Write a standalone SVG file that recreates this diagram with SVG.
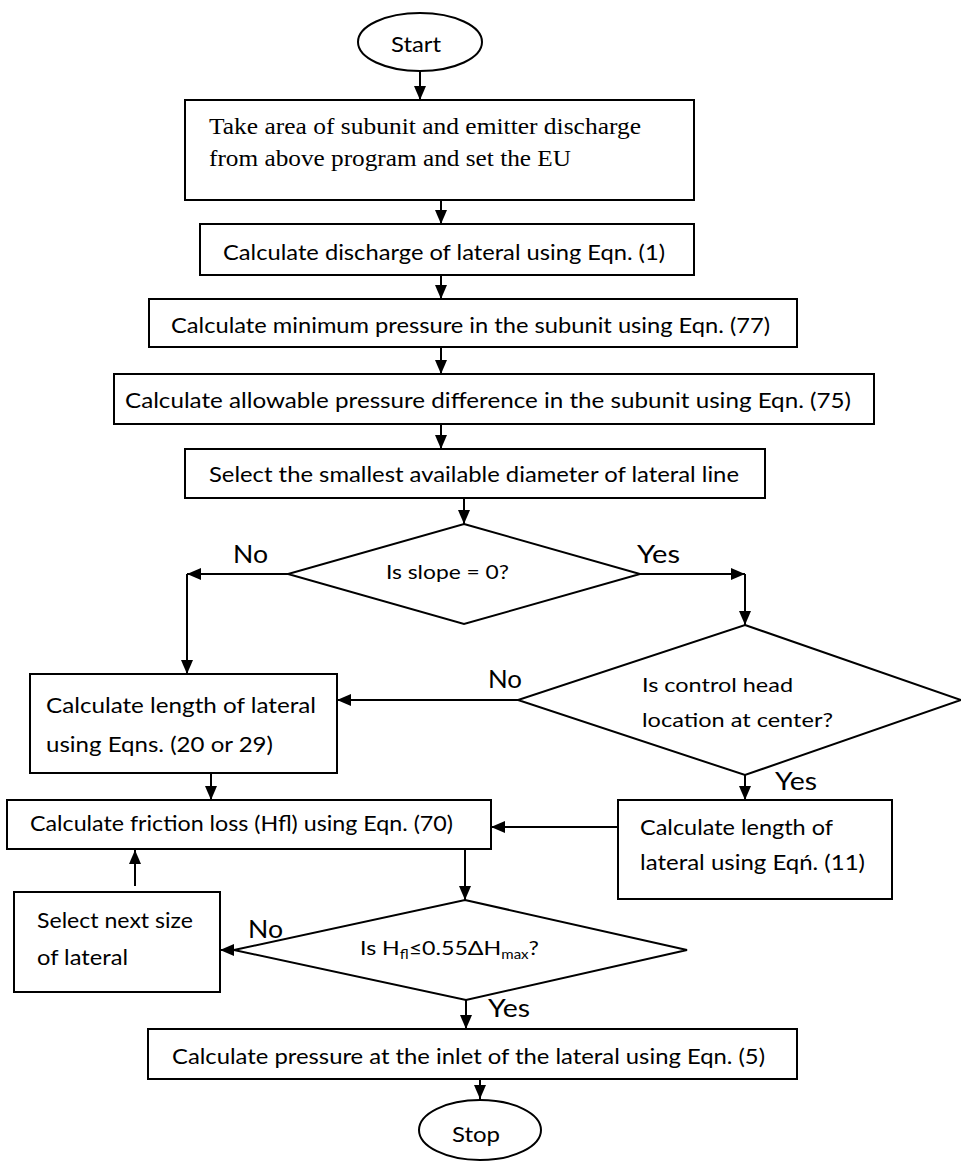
<svg xmlns="http://www.w3.org/2000/svg" width="961" height="1161" viewBox="0 0 961 1161">
<defs>
<marker id="ah" markerUnits="userSpaceOnUse" markerWidth="14" markerHeight="12" refX="14" refY="6" orient="auto">
<path d="M0,0 L14,6 L0,12 z" fill="#000"/>
</marker>
<style>
.s{fill:#fff;stroke:#000;stroke-width:2}
.t{font-family:Lato,"Liberation Sans",sans-serif;font-size:21px;fill:#000}
.d{font-family:Lato,"Liberation Sans",sans-serif;font-size:20px;fill:#000}
.l{font-family:Lato,"Liberation Sans",sans-serif;font-size:25px;fill:#000}
.r{font-family:"Liberation Serif","Times New Roman",serif;font-size:23px;fill:#000}
.c{fill:none;stroke:#000;stroke-width:2;marker-end:url(#ah)}
</style>
</defs>
<rect width="961" height="1161" fill="#fff"/>
<g id="connectors">
<path class="c" d="M420,71 V100"/>
<path class="c" d="M441,200 V224"/>
<path class="c" d="M441,275 V299"/>
<path class="c" d="M441,347 V374"/>
<path class="c" d="M441,424 V449"/>
<path class="c" d="M464,498 V524"/>
<path class="c" d="M288,574 H187"/>
<path class="c" d="M187,574 V674"/>
<path class="c" d="M640,574 H745"/>
<path class="c" d="M745,574 V625"/>
<path class="c" d="M518,700 H337"/>
<path class="c" d="M745,775 V800"/>
<path class="c" d="M211,773 V800"/>
<path class="c" d="M618,827 H491"/>
<path class="c" d="M465,849 V900"/>
<path class="c" d="M234,950 H220"/>
<path class="c" d="M135,886 V850"/>
<path class="c" d="M466,1000 V1029"/>
<path class="c" d="M480,1079 V1099"/>
</g>
<g id="start">
<ellipse class="s" cx="420" cy="42" rx="62" ry="29"/>
<text class="t" x="416" y="52" text-anchor="middle" textLength="50" lengthAdjust="spacingAndGlyphs">Start</text>
</g>
<g id="take-area">
<rect class="s" x="185" y="100" width="509" height="100"/>
<text class="r" x="209" y="134" textLength="432" lengthAdjust="spacingAndGlyphs">Take area of subunit and emitter discharge</text>
<text class="r" x="209" y="166" textLength="362" lengthAdjust="spacingAndGlyphs">from above program and set the EU</text>
</g>
<g id="discharge">
<rect class="s" x="200" y="224" width="494" height="51"/>
<text class="t" x="223" y="260" textLength="442" lengthAdjust="spacingAndGlyphs">Calculate discharge of lateral using Eqn. (1)</text>
</g>
<g id="min-pressure">
<rect class="s" x="149" y="299" width="648" height="48"/>
<text class="t" x="171" y="333" textLength="599" lengthAdjust="spacingAndGlyphs">Calculate minimum pressure in the subunit using Eqn. (77)</text>
</g>
<g id="allowable">
<rect class="s" x="114" y="374" width="760" height="50"/>
<text class="t" x="125" y="408" textLength="726" lengthAdjust="spacingAndGlyphs">Calculate allowable pressure difference in the subunit using Eqn. (75)</text>
</g>
<g id="select-smallest">
<rect class="s" x="185" y="449" width="580" height="49"/>
<text class="t" x="209" y="482" textLength="530" lengthAdjust="spacingAndGlyphs">Select the smallest available diameter of lateral line</text>
</g>
<g id="slope">
<polygon class="s" points="464,524 640,574 464,624 288,574"/>
<text class="d" x="386" y="579" textLength="123" lengthAdjust="spacingAndGlyphs">Is slope = 0?</text>
<text class="l" x="233" y="563" textLength="35" lengthAdjust="spacingAndGlyphs">No</text>
<text class="l" x="637" y="563" textLength="43" lengthAdjust="spacingAndGlyphs">Yes</text>
</g>
<g id="control-head">
<polygon class="s" points="745,625 961,700 745,775 518,700"/>
<text class="d" x="642" y="692" textLength="151" lengthAdjust="spacingAndGlyphs">Is control head</text>
<text class="d" x="642" y="727" textLength="191" lengthAdjust="spacingAndGlyphs">location at center?</text>
<text class="l" x="488" y="688" textLength="34" lengthAdjust="spacingAndGlyphs">No</text>
<text class="l" x="775" y="790" textLength="42" lengthAdjust="spacingAndGlyphs">Yes</text>
</g>
<g id="length-20-29">
<rect class="s" x="30" y="674" width="307" height="99"/>
<text class="t" x="46" y="713" textLength="270" lengthAdjust="spacingAndGlyphs">Calculate length of lateral</text>
<text class="t" x="46" y="752" textLength="227" lengthAdjust="spacingAndGlyphs">using Eqns. (20 or 29)</text>
</g>
<g id="friction">
<rect class="s" x="7" y="800" width="484" height="49"/>
<text class="t" x="30" y="831" textLength="423" lengthAdjust="spacingAndGlyphs">Calculate friction loss (Hfl) using Eqn. (70)</text>
</g>
<g id="length-11">
<rect class="s" x="618" y="800" width="274" height="99"/>
<text class="t" x="640" y="835" textLength="193" lengthAdjust="spacingAndGlyphs">Calculate length of</text>
<text class="t" x="640" y="870" textLength="225" lengthAdjust="spacingAndGlyphs">lateral using Eqń. (11)</text>
</g>
<g id="hfl-check">
<polygon class="s" points="465,900 687,950 466,1000 234,950"/>
<text class="d" x="360" y="955" textLength="179" lengthAdjust="spacingAndGlyphs">Is H<tspan font-size="13" dy="4">fl</tspan><tspan dy="-4">≤0.55ΔH</tspan><tspan font-size="13" dy="4">max</tspan><tspan dy="-4">?</tspan></text>
<text class="l" x="248" y="938" textLength="35" lengthAdjust="spacingAndGlyphs">No</text>
<text class="l" x="488" y="1017" textLength="42" lengthAdjust="spacingAndGlyphs">Yes</text>
</g>
<g id="next-size">
<rect class="s" x="14" y="892" width="206" height="100"/>
<text class="t" x="37" y="928" textLength="156" lengthAdjust="spacingAndGlyphs">Select next size</text>
<text class="t" x="37" y="965" textLength="91" lengthAdjust="spacingAndGlyphs">of lateral</text>
</g>
<g id="inlet-pressure">
<rect class="s" x="148" y="1029" width="649" height="50"/>
<text class="t" x="172" y="1064" textLength="593" lengthAdjust="spacingAndGlyphs">Calculate pressure at the inlet of the lateral using Eqn. (5)</text>
</g>
<g id="stop">
<ellipse class="s" cx="480" cy="1130" rx="61" ry="30"/>
<text class="t" x="452" y="1142" textLength="48" lengthAdjust="spacingAndGlyphs">Stop</text>
</g>
</svg>
